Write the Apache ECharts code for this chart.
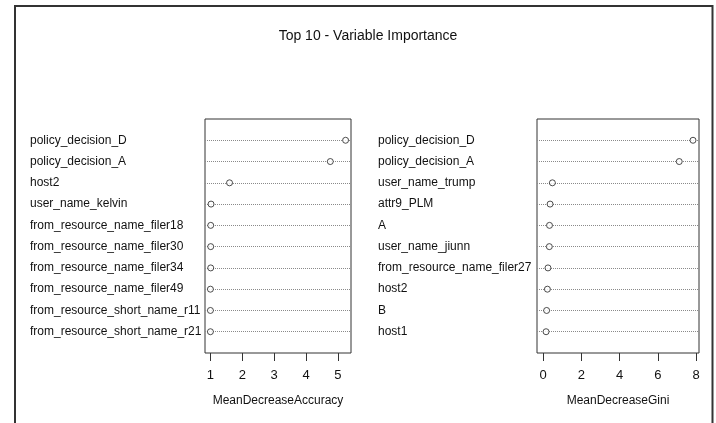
<!DOCTYPE html>
<html>
<head>
<meta charset="utf-8">
<script src="https://cdn.jsdelivr.net/npm/echarts@6/dist/echarts.min.js"></script>
<style>html,body{margin:0;padding:0;background:#fff;}#c{width:716px;height:423px;}</style>
</head>
<body>
<div id="c"></div>
<script>
// ---- data ----
const titleText = 'Top 10 - Variable Importance';
const accNames = ['policy_decision_D','policy_decision_A','host2','user_name_kelvin','from_resource_name_filer18','from_resource_name_filer30','from_resource_name_filer34','from_resource_name_filer49','from_resource_short_name_r11','from_resource_short_name_r21'];
const accValues = [5.24, 4.76, 1.60, 1.02, 1.01, 1.01, 1.01, 1.00, 1.00, 1.00];
const giniNames = ['policy_decision_D','policy_decision_A','user_name_trump','attr9_PLM','A','user_name_jiunn','from_resource_name_filer27','host2','B','host1'];
const giniValues = [7.84, 7.12, 0.49, 0.37, 0.34, 0.33, 0.26, 0.23, 0.19, 0.16];
const accTicks = [1, 2, 3, 4, 5];
const giniTicks = [0, 2, 4, 6, 8];
const accLabel = 'MeanDecreaseAccuracy';
const giniLabel = 'MeanDecreaseGini';

// R dotchart-style limits (4% expansion)
function lims(lo, hi) { const r = hi - lo; return [lo - 0.04 * r, hi + 0.04 * r]; }
const accLim = lims(Math.min(...accValues), Math.max(...accValues));
const giniLim = lims(0, Math.max(...giniValues));

const FONT = "'Liberation Sans', Arial, sans-serif";
const LBL = 12;
const splitColors = ['rgba(0,0,0,0)'].concat(Array(10).fill('#8a8a8a')).concat(['rgba(0,0,0,0)']);

function xAxisCfg(idx, lim, ticks, name) {
  return {
    type: 'value', gridIndex: idx, min: lim[0], max: lim[1], position: 'bottom',
    axisLine: { show: false, onZero: false },
    axisTick: { show: true, length: 8, customValues: ticks, lineStyle: { color: '#333' } },
    axisLabel: { customValues: ticks, margin: 16, color: '#111', fontSize: 13, fontFamily: FONT },
    splitLine: { show: false },
    name: name, nameLocation: 'middle', nameGap: 42,
    nameTextStyle: { color: '#111', fontSize: LBL, fontFamily: FONT }
  };
}
function yAxisCfg(idx, names, margin) {
  return {
    type: 'value', gridIndex: idx, min: 0, max: 11, interval: 1, inverse: true,
    axisLine: { show: false, onZero: false }, axisTick: { show: false },
    axisLabel: {
      align: 'left', margin: margin, color: '#111', fontSize: LBL, fontFamily: FONT,
      formatter: v => names[v - 1] || ''
    },
    splitLine: { show: true, lineStyle: { type: 'dotted', width: 1, color: splitColors } }
  };
}
function seriesCfg(idx, vals) {
  return {
    type: 'scatter', xAxisIndex: idx, yAxisIndex: idx,
    data: vals.map((v, i) => [v, i + 1]),
    symbol: 'circle', symbolSize: 6,
    itemStyle: { color: '#fff', borderColor: '#222', borderWidth: 1 },
    silent: true, z: 5
  };
}

const chart = echarts.init(document.getElementById('c'), null, { renderer: 'canvas' });
chart.setOption({
  backgroundColor: '#fff',
  animation: false,
  title: {
    text: titleText, left: 363, top: 24, textAlign: 'center',
    textStyle: { fontSize: 14, fontWeight: 'normal', color: '#111', fontFamily: FONT }
  },
  grid: [
    { left: 205, top: 119, width: 146, height: 234, show: true, borderColor: '#333', borderWidth: 1, backgroundColor: 'transparent' },
    { left: 537, top: 119, width: 162, height: 234, show: true, borderColor: '#333', borderWidth: 1, backgroundColor: 'transparent' }
  ],
  xAxis: [xAxisCfg(0, accLim, accTicks, accLabel), xAxisCfg(1, giniLim, giniTicks, giniLabel)],
  yAxis: [yAxisCfg(0, accNames, 175), yAxisCfg(1, giniNames, 159)],
  series: [seriesCfg(0, accValues), seriesCfg(1, giniValues)],
  graphic: [{
    type: 'polyline', silent: true,
    shape: { points: [[15, 425], [15, 6], [712.5, 6], [712.5, 425]] },
    style: { stroke: '#333', lineWidth: 2, fill: null }
  }]
});
</script>
</body>
</html>
